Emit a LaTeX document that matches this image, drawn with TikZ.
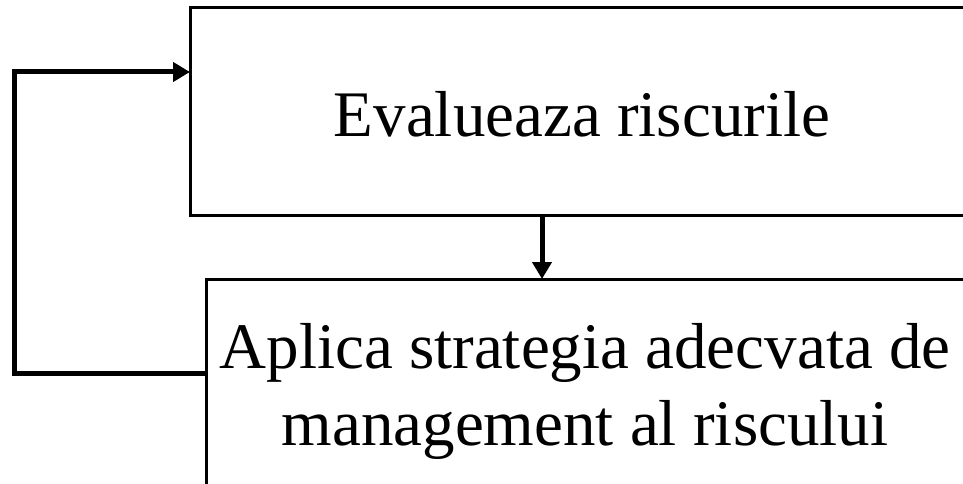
\documentclass[tikz,border=0pt]{standalone}
\usepackage{fontspec}
\setmainfont{Liberation Serif}
\usetikzlibrary{arrows.meta}
\begin{document}
\begin{tikzpicture}[x=1pt,y=1pt,
  box/.style={inner sep=0pt,anchor=north west,minimum width=773,minimum height=207},
  edge/.style={line width=3pt},
  label/.style={align=center,inner sep=0pt,font=\fontsize{65}{77}\selectfont},
  conn/.style={line width=5pt,-{Triangle[length=17pt,width=19pt]}}]
\useasboundingbox (0,0) rectangle (963,-484);
\node[box] (eval) at (190,-8) {};
\node[box,minimum width=757] (apl) at (206,-279) {};
\draw[edge] (eval.north east) -- (eval.north west) -- (eval.south west) -- (eval.south east);
\draw[edge] (apl.north east) -- (apl.north west) -- (apl.south west);
\node[label,anchor=base] (evaltxt) at (582,-136) {Evalueaza riscurile};
\node[label] (apltxt) at (585,-391) {Aplica strategia adecvata de\\management al riscului};
\coordinate (c1) at (14,-373);
\coordinate (c2) at (14,-72);
\coordinate (dx) at (542,0);
\draw[conn] (eval.south -| dx) -- (apl.north -| dx);
\draw[conn] (apl.west |- c1) -- (c1) -- (c2) -- (eval.west |- c2);
\end{tikzpicture}
\end{document}
